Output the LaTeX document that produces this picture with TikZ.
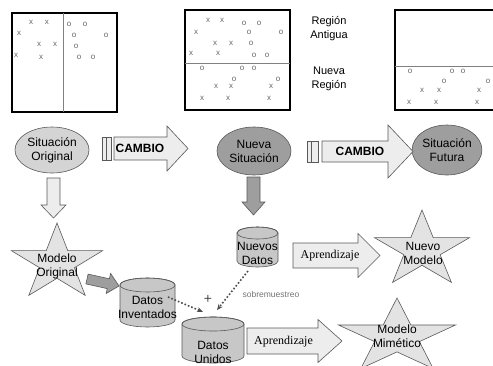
\documentclass[tikz,border=0pt]{standalone}
\usepackage{fontspec}
\setmainfont{Liberation Sans}
\newfontfamily\serifont{Liberation Serif}
\usetikzlibrary{shapes.geometric,arrows.meta}
\newcommand{\mystar}[5]{% name cx cy R xscale
  \draw[starfill, shift={(#2,#3)}, xscale=#5]
    (-90:#4) -- (-54:{0.382*#4}) -- (-18:#4) -- (18:{0.382*#4}) -- (54:#4)
    -- (90:{0.382*#4}) -- (126:#4) -- (162:{0.382*#4}) -- (198:#4) -- (234:{0.382*#4}) -- cycle;
  \coordinate (#1) at (#2,#3);}
\begin{document}
\begin{tikzpicture}[x=1pt,y=-1pt,
  lbl/.style={font=\fontsize{12}{14}\selectfont, align=center, inner sep=0pt},
  mk/.style={font=\fontsize{8}{8}\selectfont, text=black!60, inner sep=0pt},
  box/.style={draw=black, line width=1.5pt},
  divider/.style={draw=black!50, line width=1pt},
  ol/.style={draw=black!65, line width=0.6pt},
  lightfill/.style={ol, fill=black!17},
  darkfill/.style={ol, fill=black!38},
  cylfill/.style={ol, fill=black!22},
  starfill/.style={ol, fill=black!11},
  arrfill/.style={ol, fill=black!7},
  dotarrow/.style={draw=black!70, line width=1.6pt, dotted, -{Stealth[length=6pt,width=5pt]}}
]
\useasboundingbox (0,0) rectangle (493,365);

% ---------- top boxes ----------
\draw[box] (12,13) rectangle (117,112);
\draw[divider] (63,13) -- (63,112);
\foreach \p [count=\i] in {(31,22),(47,22),(19,33),(39,44),(55,44),(16,55),(41,57)}
  \node[mk] (ax\i) at \p {x};
\foreach \p [count=\i] in {(69,24),(85,24),(74,35),(106,35),(76,46),(79,57),(93,57)}
  \node[mk] (ao\i) at \p {o};

\draw[box] (185,10) rectangle (290,110);
\draw[divider] (185,63) -- (290,63);
\foreach \p [count=\i] in {(208,20),(222,20),(196,32),(215,43),(231,43),(191,53),(218,53),(216,86),(231,86),(271,86),(202,98),(228,98),(269,98)}
  \node[mk] (bx\i) at \p {x};
\foreach \p [count=\i] in {(244,23),(259,23),(249,32),(281,32),(251,43),(254,55),(267,55),(202,68),(242,68),(254,68),(234,79),(278,79)}
  \node[mk] (bo\i) at \p {o};

\draw[box] (395,10) rectangle (505,110);
\draw[divider] (395,66) -- (505,66);
\foreach \p [count=\i] in {(422,90),(439,90),(479,90),(409,102),(436,102),(477,102)}
  \node[mk] (cx\i) at \p {x};
\foreach \p [count=\i] in {(410,71),(452,71),(463,71),(444,81),(488,81)}
  \node[mk] (co\i) at \p {o};

\node[lbl, font=\fontsize{11}{14}\selectfont] (antigua) at (329,29) {Región\\Antigua};
\node[lbl, font=\fontsize{11}{14}\selectfont] (nuevareg) at (329,79) {Nueva\\Región};

% ---------- situations ----------
\node[lightfill, ellipse, minimum width=74pt, minimum height=46pt, lbl] (sorig) at (52,150) {Situación\\Original};
\node[darkfill, ellipse, minimum width=74pt, minimum height=48pt, lbl] (snueva) at (254,151) {Nueva\\Situación};
\node[darkfill, ellipse, minimum width=66pt, minimum height=50pt, lbl] (sfutura) at (447,150) {Situación\\Futura};

% CAMBIO arrows
\draw[arrfill] (102,137) rectangle (106,160);
\draw[arrfill] (106,137) rectangle (111,160);
\draw[arrfill] (114,137) -- (167,137) -- (167,126) -- (188,148.5) -- (167,171) -- (167,160) -- (114,160) -- cycle;
\node[lbl, font=\fontsize{12}{14}\selectfont\bfseries] (cambio1) at (140,148.5) {CAMBIO};

\draw[arrfill] (307,141) rectangle (311,162);
\draw[arrfill] (311,141) rectangle (318,162);
\draw[arrfill] (322,141) -- (388,141) -- (388,125) -- (413,151.5) -- (388,178) -- (388,162) -- (322,162) -- cycle;
\node[lbl, font=\fontsize{12}{14}\selectfont\bfseries] (cambio2) at (360,151.5) {CAMBIO};

% down arrows
\draw[arrfill] (47,178) -- (60,178) -- (60,205) -- (66,205) -- (53.5,218) -- (41,205) -- (47,205) -- cycle;
\draw[darkfill] (247,177) -- (260,177) -- (260,202) -- (265,202) -- (253.5,215) -- (242,202) -- (247,202) -- cycle;

% ---------- stars ----------
\mystar{sorigm}{57}{263}{40}{1.2}
\node[lbl] (morig) at (57,266) {Modelo\\Original};
\mystar{snuevo}{422}{250}{40}{1.25}
\node[lbl] (mnuevo) at (423,253) {Nuevo\\Modelo};
\mystar{smim}{397}{337}{39}{1.58}
\node[lbl] (mmim) at (397,336) {Modelo\\Mimético};

% dark diagonal arrow
\draw[darkfill] (85.9,283.9) -- (88.1,274.1) -- (109.4,278.8) -- (110.6,273.4) -- (119,286) -- (106.2,293.5) -- (107.2,288.6) -- cycle;

% ---------- cylinders ----------
\path[cylfill] (120,285) -- (120,320) arc[start angle=180, end angle=0, x radius=27.5, y radius=7]
  -- (175,285) arc[start angle=0, end angle=-180, x radius=27.5, y radius=7] -- cycle;
\draw[ol] (147.5,285) ellipse[x radius=27.5, y radius=7];
\node[lbl] (dinv) at (147.5,307) {Datos\\Inventados};

\path[cylfill] (182,324) -- (182,356) arc[start angle=180, end angle=0, x radius=31, y radius=7]
  -- (244,324) arc[start angle=0, end angle=-180, x radius=31, y radius=7] -- cycle;
\draw[ol] (213,324) ellipse[x radius=31, y radius=7];
\node[lbl] (duni) at (213,352) {Datos\\Unidos};

\path[cylfill] (237,233) -- (237,261) arc[start angle=180, end angle=0, x radius=20.5, y radius=6]
  -- (278,233) arc[start angle=0, end angle=-180, x radius=20.5, y radius=6] -- cycle;
\draw[ol] (257.5,233) ellipse[x radius=20.5, y radius=6];
\node[lbl] (ndat) at (257.5,253) {Nuevos\\Datos};

% ---------- Aprendizaje arrows ----------
\draw[arrfill] (293,243) -- (358,243) -- (358,233.5) -- (380,255.5) -- (358,277.5) -- (358,268) -- (293,268) -- cycle;
\node[lbl, font=\serifont\fontsize{12}{14}\selectfont] (apr1) at (330,256) {Aprendizaje};
\draw[arrfill] (247,328) -- (318,328) -- (318,319.5) -- (342,341) -- (318,362.5) -- (318,354) -- (247,354) -- cycle;
\node[lbl, font=\serifont\fontsize{12}{14}\selectfont] (apr2) at (283.5,342) {Aprendizaje};

% ---------- dotted connectors ----------
\coordinate (d1s) at (168,297);
\coordinate (d1e) at (203,312);
\coordinate (d2s) at (248,271);
\coordinate (d2e) at (217,310);
\draw[dotarrow] (d1s) -- (d1e);
\draw[dotarrow] (d2s) -- (d2e);
\node[lbl, font=\fontsize{14}{14}\selectfont, text=black!70] (plus) at (208,299) {+};
\node[lbl, font=\fontsize{8.5}{10}\selectfont, text=black!55] (sobre) at (271,294) {sobremuestreo};
\end{tikzpicture}
\end{document}
